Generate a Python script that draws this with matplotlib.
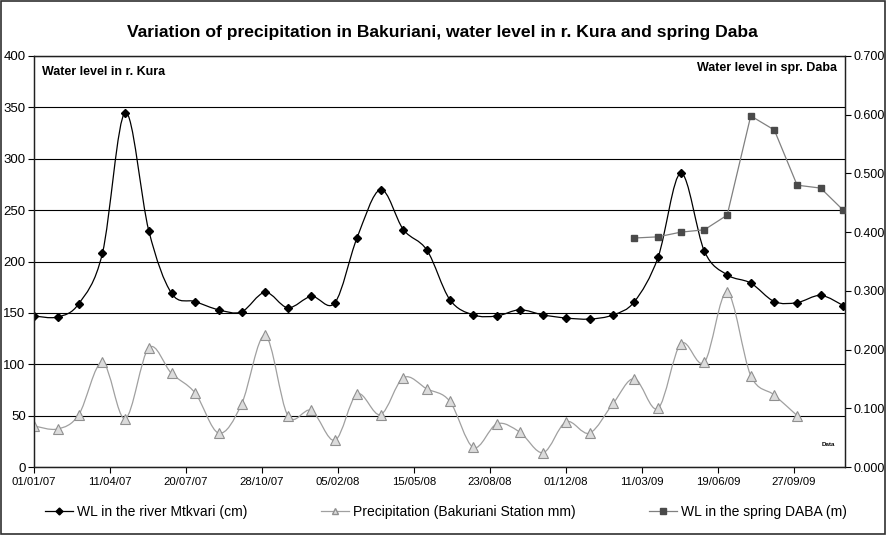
import datetime as dt
import numpy as np
import pandas as pd
import matplotlib
matplotlib.use("Agg")
import matplotlib.pyplot as plt
import matplotlib.dates as mdates
from matplotlib.path import Path
from matplotlib.patches import PathPatch, Rectangle
from matplotlib.lines import Line2D

plt.rcParams['font.family'] = ['Liberation Sans', 'DejaVu Sans']

# monthly readings (1st of month)
kura_dates = pd.date_range('2007-01-01', periods=36, freq='MS')
kura_wl = [147, 146, 159, 208, 345, 230, 169, 161, 153, 151, 170, 155,
           166, 160, 223, 270, 231, 211, 163, 148, 147, 153, 148, 145,
           144, 148, 161, 204, 286, 210, 187, 179, 161, 160, 167, 157]

precip_dates = pd.date_range('2007-01-01', periods=34, freq='MS')
precip_mm = [40, 37, 51, 102, 47, 116, 91, 72, 33, 61, 128, 50,
             55, 26, 71, 51, 87, 76, 64, 19, 42, 34, 14, 44,
             33, 62, 86, 57, 120, 102, 170, 89, 70, 50]

daba_dates = pd.date_range('2009-03-01', periods=10, freq='MS')
daba_wl = [0.390, 0.392, 0.400, 0.404, 0.429, 0.598, 0.574, 0.480, 0.475, 0.437]

tick_start = dt.datetime(2007, 1, 1)
tick_dates = [tick_start + dt.timedelta(days=100 * k) for k in range(11)]


def smooth_path(x, y):
    # excel-like smoothed line: bezier segments through every point
    x = np.asarray(x, float)
    y = np.asarray(y, float)
    n = len(x)
    verts = [(x[0], y[0])]
    codes = [Path.MOVETO]
    for i in range(n - 1):
        i0 = max(i - 1, 0)
        i3 = min(i + 2, n - 1)
        c1 = (x[i] + (x[i + 1] - x[i0]) / 6, y[i] + (y[i + 1] - y[i0]) / 6)
        c2 = (x[i + 1] - (x[i3] - x[i]) / 6, y[i + 1] - (y[i3] - y[i]) / 6)
        verts += [c1, c2, (x[i + 1], y[i + 1])]
        codes += [Path.CURVE4] * 3
    return Path(verts, codes)


kx = mdates.date2num(kura_dates.to_pydatetime())
px = mdates.date2num(precip_dates.to_pydatetime())
dx = mdates.date2num(daba_dates.to_pydatetime())

fig = plt.figure(figsize=(8.87, 5.35), dpi=100)
ax = fig.add_axes([34 / 887, 1 - 467 / 535, (845 - 34) / 887, (467 - 56) / 535])
ax2 = ax.twinx()

kura_col = 'black'
prec_col = '#a0a0a0'
daba_col = '#4a4a4a'

# smoothed lines
ax.add_patch(PathPatch(smooth_path(px, precip_mm), fill=False, edgecolor=prec_col, lw=0.9, zorder=2))
ax.add_patch(PathPatch(smooth_path(kx, kura_wl), fill=False, edgecolor=kura_col, lw=0.9, zorder=3))
ax.plot(px, precip_mm, ls='none', marker='^', ms=7, mfc='#dcdcdc', mec='#909090', mew=0.8, zorder=4)
ax.plot(kx, kura_wl, ls='none', marker='D', ms=4.5, color=kura_col, zorder=5)
ax2.plot(dx, daba_wl, '-', color='#808080', lw=0.9, marker='s', ms=5, mfc=daba_col, mec=daba_col, zorder=5)

ax.set_xlim(mdates.date2num(tick_start), mdates.date2num(tick_start + dt.timedelta(days=1067)))
ax.set_ylim(0, 400)
ax2.set_ylim(0, 0.7)
ax.set_yticks(range(0, 401, 50))
ax2.set_yticks(np.arange(0, 0.71, 0.1))
ax2.set_yticklabels([f'{v:.3f}' for v in np.arange(0, 0.71, 0.1)])
ax.set_xticks(mdates.date2num(tick_dates))
ax.set_xticklabels([d.strftime('%d/%m/%y') for d in tick_dates])

ax.yaxis.grid(True, color='black', lw=0.8)
ax.set_axisbelow(True)
ax.tick_params(axis='y', direction='out', length=4, width=0.8, pad=2, labelsize=9.5)
ax.tick_params(axis='x', direction='out', length=4, width=0.8, pad=3, labelsize=8.2)
ax2.tick_params(axis='y', direction='out', length=4, width=0.8, pad=2, labelsize=9)
for a in (ax, ax2):
    for s in a.spines.values():
        s.set_color('#202020')
        s.set_linewidth(0.9)

ax.text(0.01, 0.96, 'Water level in r. Kura', transform=ax.transAxes, fontsize=9,
        fontweight='bold', ha='left', va='center')
ax.text(0.99, 0.97, 'Water level in spr. Daba', transform=ax.transAxes, fontsize=9,
        fontweight='bold', ha='right', va='center')
ax.text(828 / 887, 1 - 444 / 535, 'Data', transform=fig.transFigure, fontsize=4.5,
        fontweight='bold', ha='center', va='center')

fig.text(442 / 887, 1 - 32 / 535,
         'Variation of precipitation in Bakuriani, water level in r. Kura and spring Daba',
         ha='center', va='center', fontsize=12.6, fontweight='bold',
         family=['Liberation Sans Narrow', 'Liberation Sans', 'DejaVu Sans'])

handles = [
    Line2D([], [], color=kura_col, lw=0.9, marker='D', ms=3.5),
    Line2D([], [], color=prec_col, lw=0.9, marker='^', ms=5, mfc='#dcdcdc', mec='#909090'),
    Line2D([], [], color='#808080', lw=0.9, marker='s', ms=4, mfc=daba_col, mec=daba_col),
]
labels = ['WL in the river Mtkvari (cm)', 'Precipitation (Bakuriani Station mm)',
          'WL in the spring DABA (m)']
fig.legend(handles, labels, loc='center', bbox_to_anchor=(446 / 887, 1 - 512 / 535), ncol=3,
           frameon=False, fontsize=10, handlelength=2.0, handletextpad=0.3,
           columnspacing=5.3, borderpad=0)

fig.patches.append(Rectangle((0.001, 0.001), 0.997, 0.997, transform=fig.transFigure,
                             fill=False, edgecolor='#303030', lw=1.2))

fig.savefig('out.png', dpi=100)
